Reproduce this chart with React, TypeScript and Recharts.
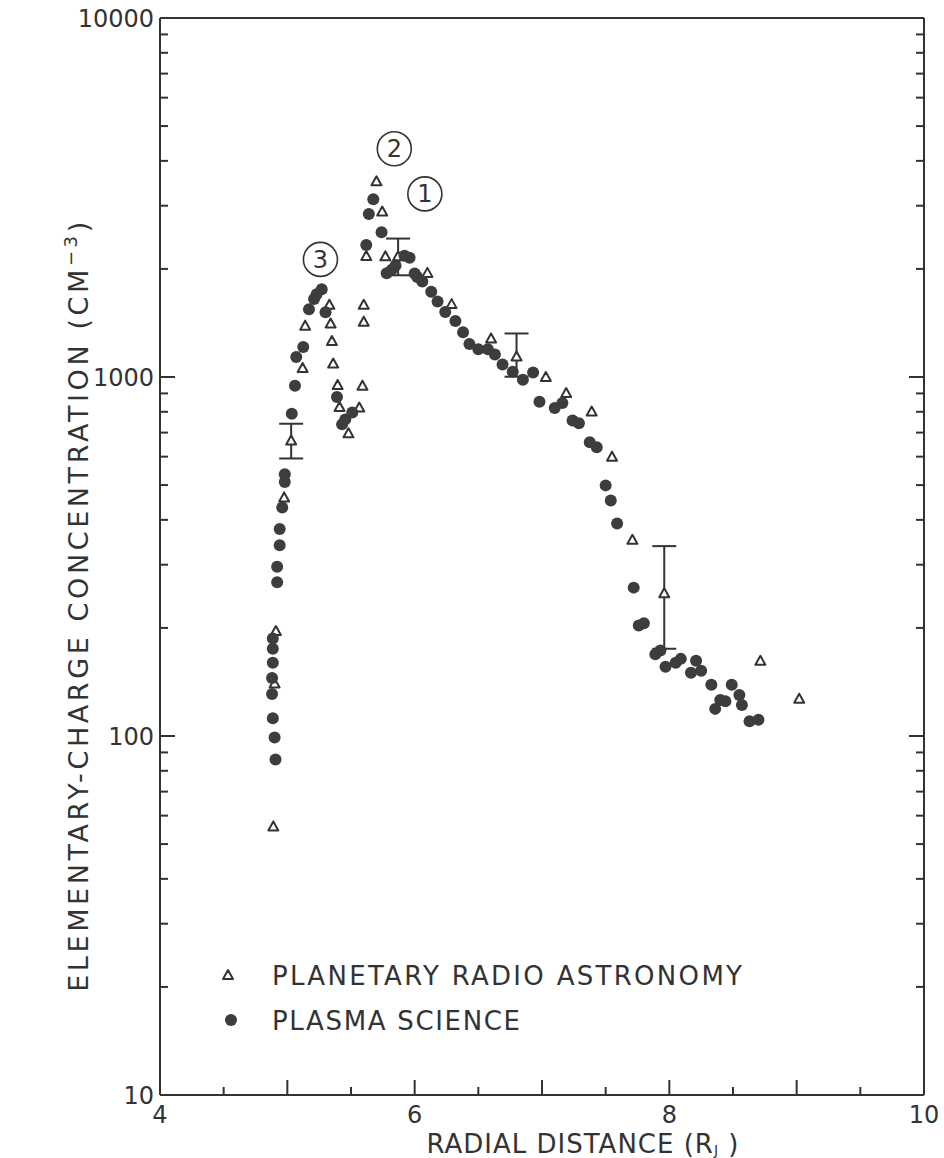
import React from "react";
import { ScatterChart, Scatter, XAxis, YAxis, ErrorBar, ReferenceDot } from "recharts";

const INK = "#333333";
const DOT = "#3d3d3d";
const FONT = "'DejaVu Sans', sans-serif";

// planetary radio astronomy (triangles), error bar bounds where drawn
const praX = [4.89, 4.9, 4.91, 4.975, 5.03, 5.12, 5.14, 5.33, 5.34, 5.35, 5.36, 5.395, 5.41, 5.48, 5.565, 5.59, 5.6, 5.6, 5.62, 5.7, 5.745, 5.77, 5.87, 6.1, 6.29, 6.6, 6.8, 7.03, 7.19, 7.39, 7.55, 7.71, 7.96, 8.715, 9.02];
const praY = [56, 140, 196, 462, 665, 1060, 1390, 1590, 1410, 1260, 1090, 950, 825, 697, 822, 946, 1426, 1589, 2174, 3509, 2890, 2168, 2170, 1950, 1596, 1281, 1141, 1000, 902, 801, 600, 352, 250, 162, 127];
const praLow = [null, null, null, null, 593, null, null, null, null, null, null, null, null, null, null, null, null, null, null, null, null, null, 1920, null, null, null, 1002, null, null, null, null, null, 175, null, null];
const praHigh = [null, null, null, null, 741, null, null, null, null, null, null, null, null, null, null, null, null, null, null, null, null, null, 2430, null, null, null, 1322, null, null, null, null, null, 338, null, null];

// plasma science (dots)
const psX = [4.907, 4.9, 4.886, 4.88, 4.88, 4.886, 4.886, 4.886, 4.92, 4.92, 4.94, 4.94, 4.96, 4.98, 4.98, 5.035, 5.06, 5.07, 5.125, 5.17, 5.21, 5.23, 5.27, 5.3, 5.39, 5.43, 5.455, 5.51, 5.62, 5.64, 5.675, 5.74, 5.78, 5.82, 5.85, 5.92, 5.96, 6.0, 6.02, 6.06, 6.13, 6.18, 6.24, 6.32, 6.38, 6.43, 6.5, 6.575, 6.63, 6.69, 6.77, 6.85, 6.93, 6.98, 7.1, 7.16, 7.24, 7.29, 7.375, 7.43, 7.5, 7.54, 7.59, 7.72, 7.76, 7.8, 7.89, 7.93, 7.97, 8.05, 8.09, 8.17, 8.21, 8.25, 8.33, 8.36, 8.4, 8.44, 8.49, 8.55, 8.57, 8.63, 8.7];
const psY = [86, 99, 112, 131, 145, 160, 175, 187, 268, 296, 340, 377, 433, 510, 536, 790, 946, 1137, 1213, 1545, 1648, 1701, 1755, 1514, 879, 738, 762, 796, 2331, 2845, 3127, 2529, 1946, 1990, 2046, 2178, 2150, 1941, 1900, 1844, 1728, 1622, 1517, 1432, 1333, 1236, 1195, 1194, 1156, 1084, 1035, 983, 1029, 853, 820, 846, 757, 743, 658, 637, 499, 453, 391, 259, 203, 206, 169, 173, 156, 160, 164, 150, 162, 152, 139, 119, 126, 125, 139, 130, 122, 110, 111];

const xTicks = [4, 4.5, 5, 5.5, 6, 6.5, 7, 7.5, 8, 8.5, 9, 9.5, 10];
const xLabels = [4, 6, 8, 10];
const yTicks = [10, 20, 30, 40, 50, 60, 70, 80, 90, 100, 200, 300, 400, 500, 600, 700, 800, 900, 1000, 2000, 3000, 4000, 5000, 6000, 7000, 8000, 9000, 10000];
const yLabels = [10, 100, 1000, 10000];

const peakNames = ["1", "2", "3"];
const peakX = [6.08, 5.84, 5.26];
const peakY = [3236, 4325, 2126];

const praData = praX.map((x, i) => ({
  x,
  y: praY[i],
  err: praLow[i] == null ? undefined : [praY[i] - praLow[i], praHigh[i] - praY[i]],
}));
const psData = psX.map((x, i) => ({ x, y: psY[i] }));

const tickText = { fontSize: 24, fill: INK, fontFamily: FONT };

function BottomTick({ x, y, payload }: any) {
  const v = payload.value;
  const len = Number.isInteger(v) ? 15 : 8;
  return (
    <g>
      <line x1={x} x2={x} y1={y} y2={y - len} stroke={INK} strokeWidth={2} />
      {xLabels.includes(v) && (
        <text x={x} y={y + 28} textAnchor="middle" {...tickText}>
          {v}
        </text>
      )}
    </g>
  );
}

function TopTick({ x, y, payload }: any) {
  const len = Number.isInteger(payload.value) ? 15 : 8;
  return <line x1={x} x2={x} y1={y} y2={y + len} stroke={INK} strokeWidth={2} />;
}

function LeftTick({ x, y, payload }: any) {
  const v = payload.value;
  const major = yLabels.includes(v);
  return (
    <g>
      <line x1={x} x2={x + (major ? 15 : 8)} y1={y} y2={y} stroke={INK} strokeWidth={2} />
      {major && (
        <text x={x - 6} y={y + 9} textAnchor="end" {...tickText}>
          {v}
        </text>
      )}
    </g>
  );
}

function RightTick({ x, y, payload }: any) {
  const len = yLabels.includes(payload.value) ? 15 : 8;
  return <line x1={x} x2={x - len} y1={y} y2={y} stroke={INK} strokeWidth={2} />;
}

function Triangle({ cx, cy }: any) {
  return (
    <polygon
      points={`${cx - 5},${cy + 4} ${cx + 5},${cy + 4} ${cx},${cy - 5}`}
      fill="#fff"
      stroke={INK}
      strokeWidth={2}
      strokeLinejoin="round"
    />
  );
}

function Dot({ cx, cy }: any) {
  return <circle cx={cx} cy={cy} r={6} fill={DOT} />;
}

const axisLine = { stroke: INK, strokeWidth: 2 };

export default function App() {
  return (
    <div style={{ position: "relative", width: 944, height: 1158, background: "#fff" }}>
      <style>{"body{margin:0}"}</style>
      <ScatterChart width={944} height={1158} margin={{ top: 17, right: 19, bottom: 62, left: 159 }}>
        <XAxis
          dataKey="x"
          type="number"
          domain={[4, 10]}
          ticks={xTicks}
          interval={0}
          height={1}
          tickSize={0}
          tickMargin={0}
          tickLine={false}
          axisLine={axisLine}
          tick={(p: any) => <BottomTick {...p} />}
          allowDataOverflow
        />
        <XAxis
          xAxisId="top"
          orientation="top"
          type="number"
          domain={[4, 10]}
          ticks={xTicks}
          interval={0}
          height={1}
          tickSize={0}
          tickMargin={0}
          tickLine={false}
          axisLine={axisLine}
          tick={(p: any) => <TopTick {...p} />}
          allowDataOverflow
        />
        <YAxis
          dataKey="y"
          type="number"
          scale="log"
          domain={[10, 10000]}
          ticks={yTicks}
          interval={0}
          width={1}
          tickSize={0}
          tickMargin={0}
          tickLine={false}
          axisLine={axisLine}
          tick={(p: any) => <LeftTick {...p} />}
          allowDataOverflow
        />
        <YAxis
          yAxisId="right"
          orientation="right"
          type="number"
          scale="log"
          domain={[10, 10000]}
          ticks={yTicks}
          interval={0}
          width={1}
          tickSize={0}
          tickMargin={0}
          tickLine={false}
          axisLine={axisLine}
          tick={(p: any) => <RightTick {...p} />}
          allowDataOverflow
        />
        <Scatter data={praData} shape={(p: any) => <Triangle {...p} />} isAnimationActive={false}>
          <ErrorBar dataKey="err" direction="y" width={12} stroke={INK} strokeWidth={2} />
        </Scatter>
        <Scatter data={psData} shape={(p: any) => <Dot {...p} />} isAnimationActive={false} />
        {peakNames.map((n, i) => (
          <ReferenceDot
            key={n}
            x={peakX[i]}
            y={peakY[i]}
            r={17}
            fill="none"
            stroke={INK}
            strokeWidth={1.6}
            label={{ value: n, position: "center", fill: INK, fontSize: 24, fontFamily: FONT }}
          />
        ))}
      </ScatterChart>
      <svg
        width={944}
        height={1158}
        style={{ position: "absolute", left: 0, top: 0, pointerEvents: "none" }}
        fontFamily={FONT}
        fill={INK}
      >
        <text transform="translate(88,605) rotate(-90)" textAnchor="middle" fontSize={27} letterSpacing={3.6}>
          ELEMENTARY-CHARGE CONCENTRATION (CM
          <tspan dy={-11} fontSize={18}>−3</tspan>
          <tspan dy={11}>)</tspan>
        </text>
        <text x={583} y={1153} textAnchor="middle" fontSize={26} letterSpacing={1}>
          RADIAL DISTANCE (R
          <tspan dy={2} fontSize={14}>J</tspan>
          <tspan dy={-2}> )</tspan>
        </text>
        <polygon points="223,979 233,979 228,970" fill="#fff" stroke={INK} strokeWidth={2} strokeLinejoin="round" />
        <text x={272} y={985} fontSize={26} textLength={470}>
          PLANETARY RADIO ASTRONOMY
        </text>
        <circle cx={231} cy={1020} r={6} fill={DOT} />
        <text x={272} y={1030} fontSize={26} textLength={248}>
          PLASMA SCIENCE
        </text>
      </svg>
    </div>
  );
}
